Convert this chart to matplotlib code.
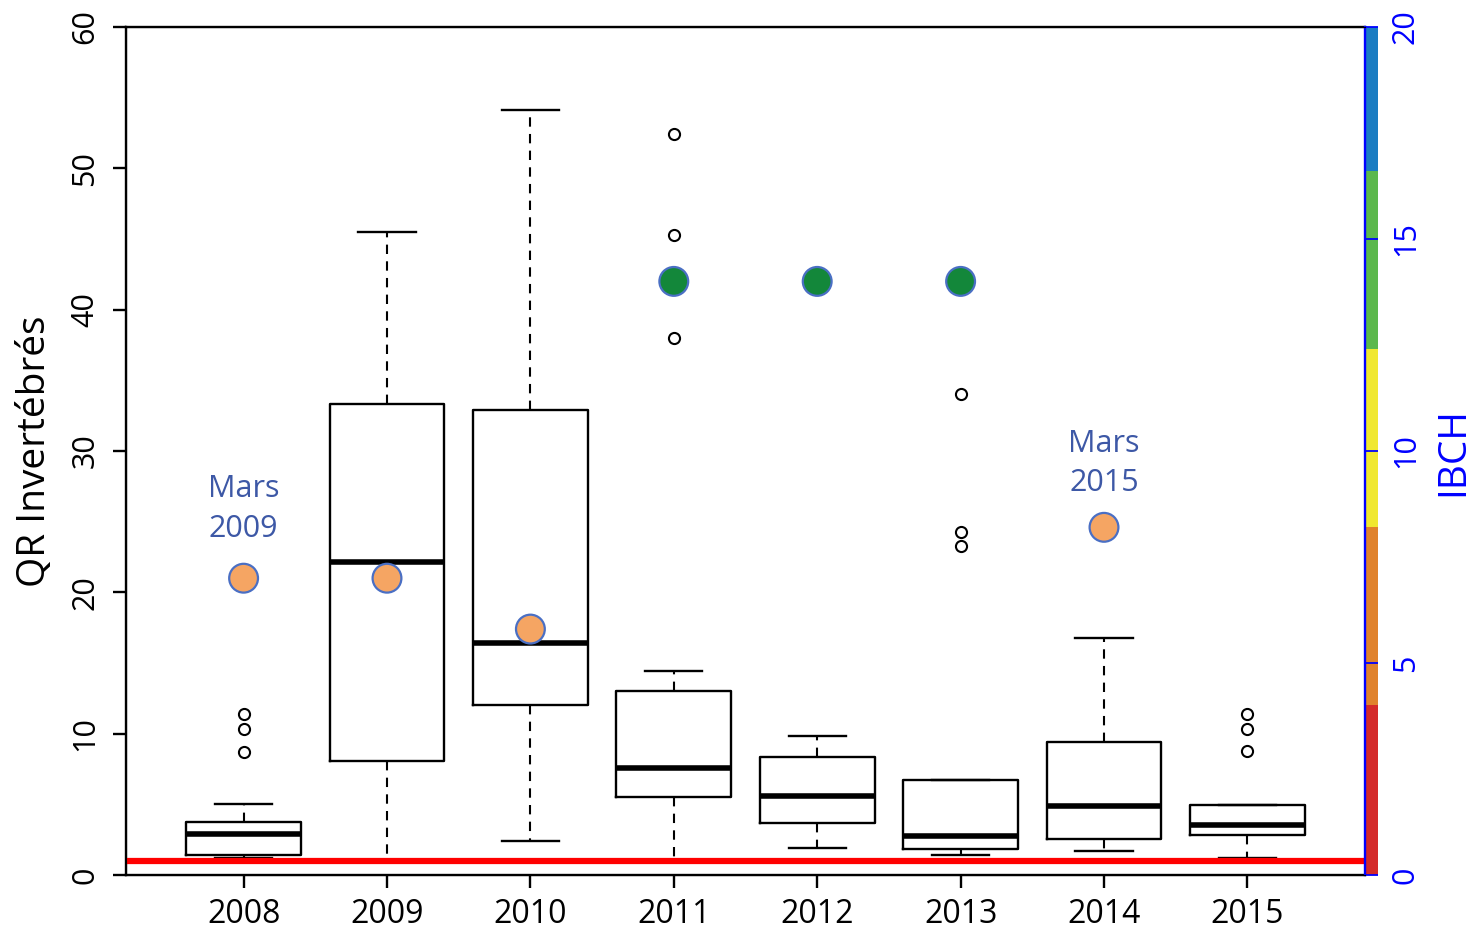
import numpy as np
import matplotlib
matplotlib.use("Agg")
import matplotlib.pyplot as plt
from matplotlib.patches import Rectangle
import matplotlib.transforms as mtransforms

plt.rcParams['font.family'] = ['Open Sans', 'DejaVu Sans']

# -------------------------------------------------------
# Data
# -------------------------------------------------------

years = ["2008", "2009", "2010", "2011", "2012", "2013", "2014", "2015"]

q1 = [1.4, 8.1, 12.0, 5.5, 3.7, 1.85, 2.55, 2.8]
med = [2.9, 22.15, 16.4, 7.6, 5.6, 2.75, 4.9, 3.55]
q3 = [3.75, 33.3, 32.9, 13.0, 8.35, 6.7, 9.4, 4.95]
whislo = [1.2, 1.0, 2.4, 1.0, 1.9, 1.4, 1.7, 1.2]
whishi = [5.0, 45.5, 54.1, 14.4, 9.8, 6.7, 16.8, 4.95]
fliers = [
    [8.7, 10.3, 11.4],
    [],
    [],
    [38.0, 45.3, 52.4],
    [],
    [23.3, 24.3, 34.0],
    [],
    [8.8, 10.3, 11.4],
]

# IBCH scores (right axis), no value for 2015
ibch_years = [1, 2, 3, 4, 5, 6, 7]
ibch_values = [7.0, 7.0, 5.8, 14.0, 14.0, 14.0, 8.2]
ibch_colors = ["#F5A563", "#F5A563", "#F5A563", "#13873A", "#13873A",
               "#13873A", "#F5A563"]

# IBCH class bounds and colours
ibch_bounds = [0, 4.0, 8.2, 12.4, 16.6, 20]
ibch_class_colors = ["#D42A2A", "#E0822C", "#F0E830", "#5BB84C", "#1A7CC2"]

threshold = 1.0

annotations = [(1, 25.9, "Mars\n2009"), (7, 29.1, "Mars\n2015")]

# -------------------------------------------------------
# Figure
# -------------------------------------------------------

fig = plt.figure(figsize=(14.8, 9.31), dpi=100)
ax = fig.add_axes([126 / 1480, 56 / 931, 1239 / 1480, 848 / 931])

stats = []
for i in range(len(years)):
    stats.append(dict(med=med[i], q1=q1[i], q3=q3[i], whislo=whislo[i],
                      whishi=whishi[i], fliers=fliers[i], label=years[i]))

pos = np.arange(1, len(years) + 1)
ax.bxp(stats, positions=pos, widths=0.8, capwidths=0.4,
       boxprops=dict(color="black", linewidth=1.7),
       medianprops=dict(color="black", linewidth=4.0, solid_capstyle="butt"),
       whiskerprops=dict(color="black", linewidth=1.5, linestyle=(0, (4.5, 3.5))),
       capprops=dict(color="black", linewidth=1.7),
       flierprops=dict(marker="o", markerfacecolor="none",
                       markeredgecolor="black", markersize=8,
                       markeredgewidth=1.5))

ax.axhline(threshold, color="#FF0000", linewidth=4.5, zorder=3)

ax.set_xlim(0.18, 8.82)
ax.set_ylim(0, 60)
ax.set_xticks(pos)
ax.set_xticklabels(years, fontsize=23)
ax.set_yticks([0, 10, 20, 30, 40, 50, 60])
ax.set_yticklabels(["0", "10", "20", "30", "40", "50", "60"],
                   fontsize=22, rotation=90, va="center")
ax.tick_params(axis="both", direction="out", length=9.5, width=1.7)
ax.tick_params(axis="x", pad=7)
ax.tick_params(axis="y", pad=9)
ax.set_ylabel("QR Invertébrés", fontsize=28, labelpad=12)
for s in ["left", "top", "bottom"]:
    ax.spines[s].set_linewidth(1.7)

for x, y, txt in annotations:
    ax.text(x, y, txt, ha="center", va="center", fontsize=22,
            color="#3D58A6", linespacing=1.4)

# -------------------------------------------------------
# IBCH axis
# -------------------------------------------------------

ax2 = ax.twinx()
ax2.set_ylim(0, 20)
trans = mtransforms.blended_transform_factory(ax2.transAxes, ax2.transData)
for lo, hi, c in zip(ibch_bounds[:-1], ibch_bounds[1:], ibch_class_colors):
    ax2.add_patch(Rectangle((1.0, lo), 13 / 1239, hi - lo, transform=trans,
                            facecolor=c, edgecolor="none", clip_on=False,
                            zorder=0))

ax2.scatter(ibch_years, ibch_values, s=430, c=ibch_colors,
            edgecolors="#4A6FC4", linewidths=1.6, zorder=4, clip_on=False)

ax2.set_yticks([0, 5, 10, 15, 20])
ax2.set_yticklabels(["0", "5", "10", "15", "20"], fontsize=22,
                    rotation=90, va="center", color="#0000FF")
ax2.tick_params(axis="y", direction="out", length=9.5, width=1.3,
                colors="#0000FF", pad=9)
ax2.spines["right"].set_color("#0000FF")
ax2.spines["right"].set_linewidth(1.7)
ax2.set_ylabel("IBCH", fontsize=28, color="#0000FF", labelpad=10)

fig.savefig("out.png", dpi=100)
